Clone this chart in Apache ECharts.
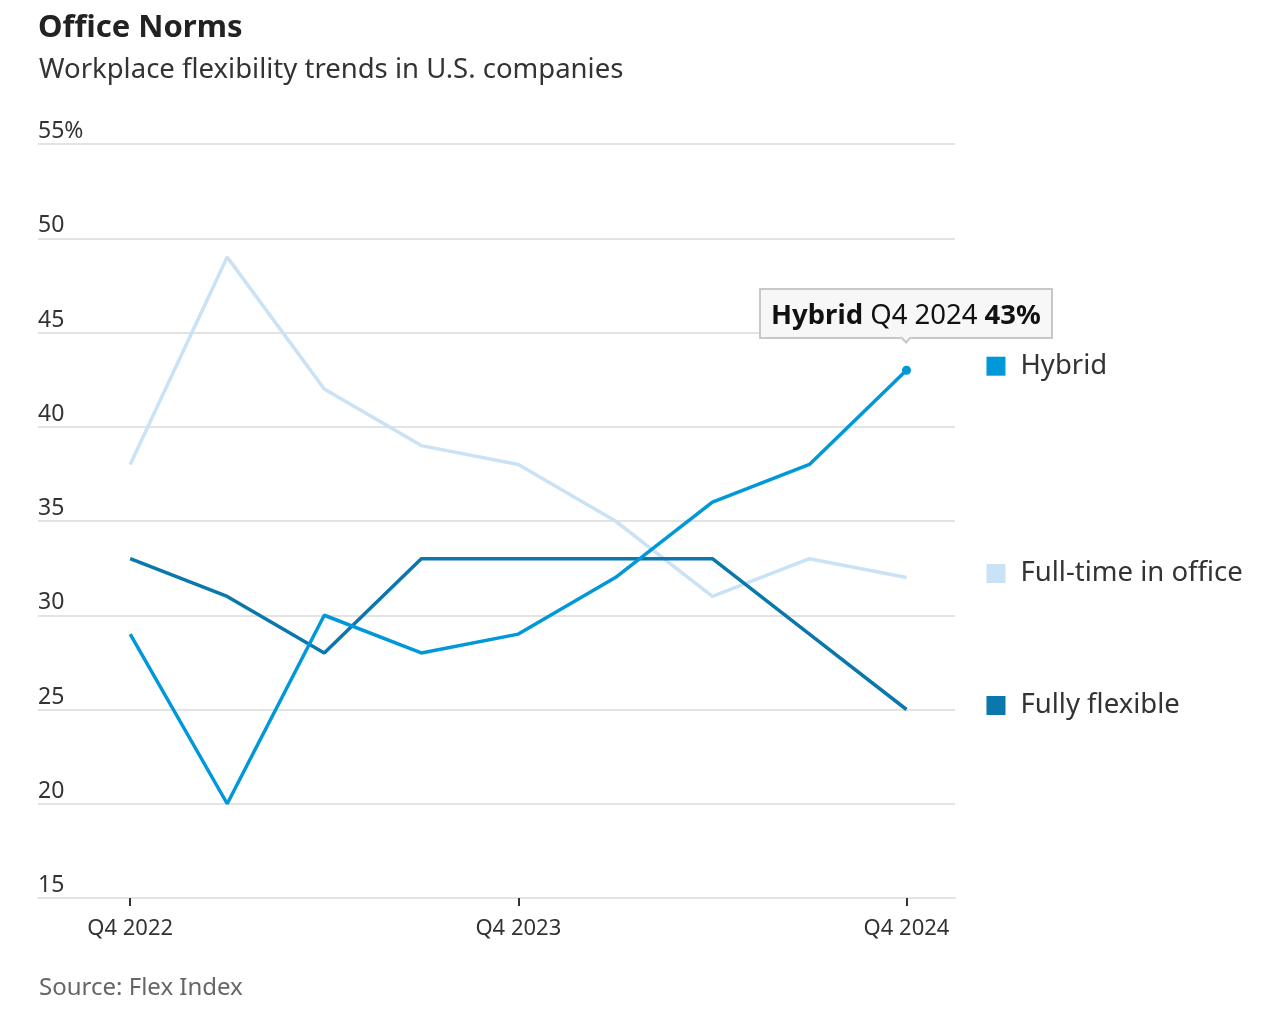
<!DOCTYPE html>
<html>
<head>
<meta charset="utf-8">
<script src="https://cdn.jsdelivr.net/npm/echarts@6/dist/echarts.min.js"></script>
<style>
html,body{margin:0;padding:0;background:#fff;}
#chart{width:1269px;height:1017px;}
</style>
</head>
<body>
<div id="chart"></div>
<script>
const quarters = ['Q4 2022','Q1 2023','Q2 2023','Q3 2023','Q4 2023','Q1 2024','Q2 2024','Q3 2024','Q4 2024'];
const hybrid = [29, 20, 30, 28, 29, 32, 36, 38, 43];
const fullTime = [38, 49, 42, 39, 38, 35, 31, 33, 32];
const fullyFlexible = [33, 31, 28, 33, 33, 33, 33, 29, 25];
const labeledQuarters = [0, 4, 8];
const yTicks = [15, 20, 25, 30, 35, 40, 45, 50, 55];

const FONT = '"Noto Sans", sans-serif';
const colors = { hybrid: '#0098d9', fullTime: '#c9e2f5', fully: '#0a77ad' };

function toPairs(arr) { return arr.map((v, i) => [i, v]); }

function endLabel(color) {
  return {
    show: true,
    distance: 80,
    offset: [0, -4],
    formatter: '{sq|}{t|{a}}',
    rich: {
      sq: { width: 19, height: 19, backgroundColor: color },
      t: { fontSize: 27.5, color: '#333', fontFamily: FONT, padding: [0, 0, 0, 15] }
    }
  };
}

const hybridData = toPairs(hybrid);
hybridData[hybridData.length - 1] = { value: hybridData[hybridData.length - 1], symbol: 'circle', symbolSize: 9 };

const chart = echarts.init(document.getElementById('chart'));
chart.setOption({
  animation: false,
  backgroundColor: '#fff',
  textStyle: { fontFamily: FONT },
  title: [
    { text: 'Office Norms', left: 33, top: 8, textStyle: { fontSize: 31, fontWeight: 'bold', color: '#222', fontFamily: FONT } },
    { text: 'Workplace flexibility trends in U.S. companies', left: 34, top: 51, textStyle: { fontSize: 27.5, fontWeight: 'normal', color: '#333', fontFamily: FONT } },
    { text: 'Source: Flex Index', left: 34, top: 971, textStyle: { fontSize: 24, fontWeight: 'normal', color: '#666', fontFamily: FONT } }
  ],
  grid: { left: 38, right: 314, top: 144, bottom: 119 },
  tooltip: {
    trigger: 'item',
    position: 'top',
    alwaysShowContent: true,
    transitionDuration: 0,
    backgroundColor: '#f7f7f7',
    borderColor: '#c8c8c8',
    borderWidth: 2,
    borderRadius: 0,
    padding: [3, 10],
    textStyle: { fontSize: 27.5, color: '#111', fontFamily: FONT },
    extraCssText: 'box-shadow:none; margin-top:-16px;',
    formatter: function (p) {
      return '<b>' + p.seriesName + '</b> ' + quarters[p.value[0]] + ' <b>' + p.value[1] + '%</b>';
    }
  },
  xAxis: {
    type: 'value',
    min: -0.95,
    max: 8.5,
    splitLine: { show: false },
    axisLine: { show: true, lineStyle: { color: '#e3e3e3', width: 2 } },
    axisTick: { show: true, customValues: labeledQuarters, length: 8, lineStyle: { color: '#333', width: 2 } },
    axisLabel: {
      customValues: labeledQuarters,
      margin: 20,
      fontSize: 22,
      color: '#333',
      fontFamily: FONT,
      formatter: v => quarters[Math.round(v)]
    }
  },
  yAxis: {
    type: 'value',
    min: 15,
    max: 55,
    interval: 5,
    axisLine: { show: false },
    axisTick: { show: false },
    splitLine: { show: true, lineStyle: { color: '#e3e3e3', width: 2 } },
    axisLabel: {
      inside: true,
      margin: 0,
      verticalAlign: 'bottom',
      padding: [0, 0, 1, 0],
      fontSize: 23,
      color: '#333',
      fontFamily: FONT,
      formatter: v => (v === 55 ? v + '%' : String(v))
    }
  },
  series: [
    {
      name: 'Full-time in office', type: 'line', data: toPairs(fullTime),
      symbol: 'none', lineStyle: { color: colors.fullTime, width: 3.5 }, itemStyle: { color: colors.fullTime },
      endLabel: endLabel(colors.fullTime), z: 2, silent: true
    },
    {
      name: 'Fully flexible', type: 'line', data: toPairs(fullyFlexible),
      symbol: 'none', lineStyle: { color: colors.fully, width: 3.5 }, itemStyle: { color: colors.fully },
      endLabel: endLabel(colors.fully), z: 3, silent: true
    },
    {
      name: 'Hybrid', type: 'line', data: hybridData,
      symbol: 'none', showSymbol: true, lineStyle: { color: colors.hybrid, width: 3.5 }, itemStyle: { color: colors.hybrid },
      endLabel: endLabel(colors.hybrid), z: 4
    }
  ]
});
chart.dispatchAction({ type: 'showTip', seriesIndex: 2, dataIndex: 8 });
</script>
</body>
</html>
